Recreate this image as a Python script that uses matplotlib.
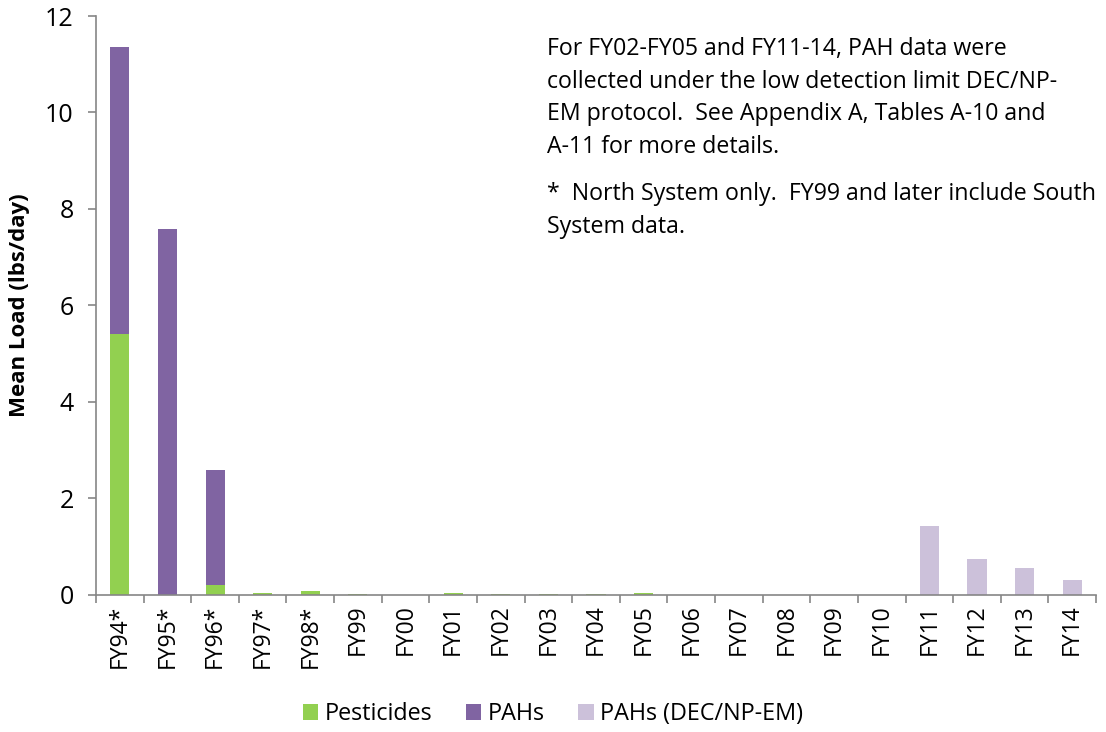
import numpy as np
import matplotlib
matplotlib.use('Agg')
import matplotlib.pyplot as plt

plt.rcParams['font.family'] = ['Open Sans', 'DejaVu Sans']

# datos
anios = ['FY94*', 'FY95*', 'FY96*', 'FY97*', 'FY98*', 'FY99', 'FY00', 'FY01', 'FY02', 'FY03',
         'FY04', 'FY05', 'FY06', 'FY07', 'FY08', 'FY09', 'FY10', 'FY11', 'FY12', 'FY13', 'FY14']
pesticidas = [5.40, 0.00, 0.20, 0.04, 0.07, 0.01, 0.00, 0.03, 0.01, 0.02,
              0.01, 0.03, 0.00, 0.00, 0.00, 0.00, 0.00, 0.00, 0.00, 0.00, 0.00]
pahs = [5.96, 7.59, 2.39, 0.00, 0.00, 0.00, 0.00, 0.00, 0.00, 0.00,
        0.00, 0.00, 0.00, 0.00, 0.00, 0.00, 0.00, 0.00, 0.00, 0.00, 0.00]
pahs_dec = [0.00, 0.00, 0.00, 0.00, 0.00, 0.00, 0.00, 0.00, 0.00, 0.00,
            0.00, 0.00, 0.00, 0.00, 0.00, 0.00, 0.00, 1.43, 0.74, 0.54, 0.30]

verde = '#92D050'
morado = '#8064A2'
lila = '#CCC1DA'
gris = '#868686'

x = np.arange(len(anios))
pest = np.array(pesticidas)
pah = np.array(pahs)
pdec = np.array(pahs_dec)

fig = plt.figure(figsize=(11.06, 7.32), dpi=100)
ax = fig.add_axes([0.0868, 0.1878, 0.9042, 0.7903])

ancho = 0.4
ax.bar(x, pest, ancho, color=verde, label='Pesticides')
ax.bar(x, pah, ancho, bottom=pest, color=morado, label='PAHs')
ax.bar(x, pdec, ancho, bottom=pest + pah, color=lila, label='PAHs (DEC/NP-EM)')

ax.set_xlim(-0.5, len(anios) - 0.5)
ax.set_ylim(0, 12)
ax.set_yticks([0, 2, 4, 6, 8, 10, 12])

ax.set_xticks(x)
ax.set_xticklabels(anios, rotation=90, fontsize=16.5)
ax.set_xticks(np.arange(-0.5, len(anios)), minor=True)
ax.tick_params(axis='x', which='major', length=0, pad=7)
ax.tick_params(axis='x', which='minor', length=6, width=1.2, color=gris, direction='out')
ax.tick_params(axis='y', length=6, width=1.2, color=gris, direction='out', labelsize=18, pad=10)

for lado in ['top', 'right']:
    ax.spines[lado].set_visible(False)
for lado in ['left', 'bottom']:
    ax.spines[lado].set_color(gris)
    ax.spines[lado].set_linewidth(1.2)

ax.set_ylabel('Mean Load (lbs/day)', fontsize=16, fontweight='bold')
ax.yaxis.set_label_coords(-0.066, 0.5)

# notas: una linea por texto, con la linea base de cada una
nota1 = ['For FY02-FY05 and FY11-14, PAH data were',
         'collected under the low detection limit DEC/NP-',
         'EM protocol.  See Appendix A, Tables A-10 and',
         'A-11 for more details.']
nota2 = ['*  North System only.  FY99 and later include South',
         'System data.']
interlinea = 32.7
for i, linea in enumerate(nota1):
    fig.text(547 / 1106, 1 - (55 + i * interlinea) / 732, linea, fontsize=16.7, va='baseline', ha='left')
for i, linea in enumerate(nota2):
    fig.text(547 / 1106, 1 - (200 + i * interlinea) / 732, linea, fontsize=16.7, va='baseline', ha='left')

fig.legend(loc='center', bbox_to_anchor=(0.5, 1 - 714 / 732), ncol=3, frameon=False,
           fontsize=16.8, handlelength=0.65, handleheight=0.65, handletextpad=0.28, columnspacing=1.45)

fig.savefig('out.png', dpi=100)
